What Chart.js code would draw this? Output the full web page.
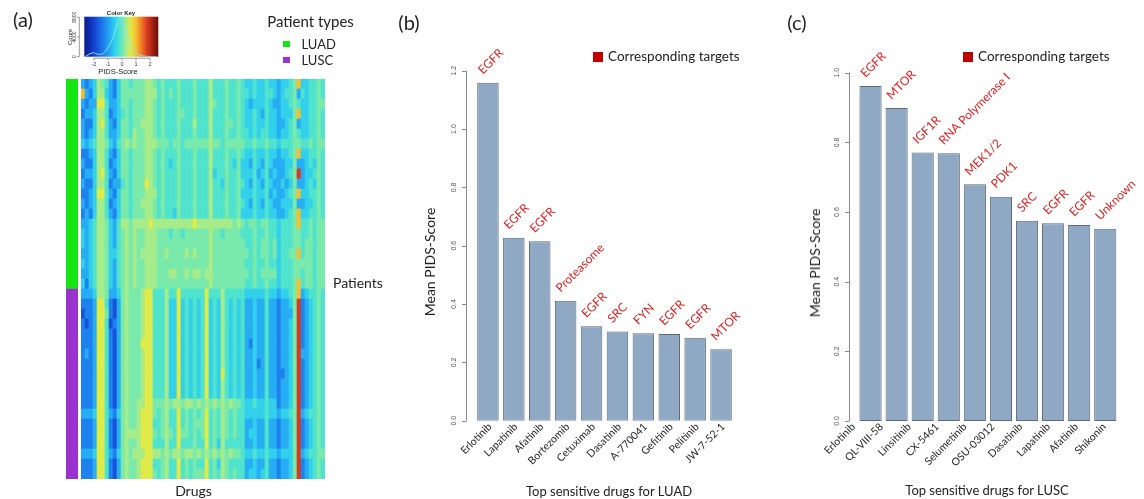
<!DOCTYPE html>
<html>
<head>
<meta charset="utf-8">
<script src="https://cdn.jsdelivr.net/npm/chart.js@4.4.0/dist/chart.umd.min.js"></script>
<style>
html,body{margin:0;padding:0;background:#fff;}
#wrap{position:relative;width:1144px;height:499px;overflow:hidden;font-family:Lato,"Open Sans",sans-serif;color:#222;}
canvas{position:absolute;left:0;top:0;}
.t{position:absolute;white-space:nowrap;line-height:1;transform:translate(-50%,-50%);}
.tl{position:absolute;white-space:nowrap;line-height:1;transform:translate(0,-50%);}
.rot{transform:translate(-50%,-50%) rotate(-90deg);}
.sq{position:absolute;}
</style>
</head>
<body>
<div id="wrap">
  <canvas id="heat" width="1144" height="499"></canvas>
  <canvas id="side" width="1144" height="499"></canvas>
  <canvas id="key" width="1144" height="499"></canvas>
  <canvas id="chartB" width="1144" height="499"></canvas>
  <canvas id="chartC" width="1144" height="499"></canvas>

  <div class="t" style="left:23px;top:19px;font-size:20px">(a)</div>
  <div class="t" style="left:409px;top:22px;font-size:20px">(b)</div>
  <div class="t" style="left:797px;top:22px;font-size:20px">(c)</div>

  <div class="t" style="left:121px;top:12.5px;font-size:6px;font-weight:bold;font-family:'Liberation Sans'">Color Key</div>
  <div class="t" style="left:118px;top:71.5px;font-size:7.5px;font-family:'Liberation Sans'">PIDS-Score</div>
  <div class="t rot" style="left:69.5px;top:37px;font-size:6px;font-family:'Liberation Sans'">Count</div>

  <div class="t" style="left:310.5px;top:20.5px;font-size:15px">Patient types</div>
  <div class="sq" style="left:283px;top:41px;width:7px;height:6px;background:#14e614"></div>
  <div class="tl" style="left:301.5px;top:44px;font-size:13px">LUAD</div>
  <div class="sq" style="left:283px;top:56.5px;width:7px;height:6px;background:#9a32cd"></div>
  <div class="tl" style="left:301.5px;top:60px;font-size:13px">LUSC</div>
  <div class="tl" style="left:333px;top:283px;font-size:14px">Patients</div>
  <div class="t" style="left:193.5px;top:491px;font-size:14px">Drugs</div>

  <div class="t rot" style="left:430px;top:262px;font-size:14px">Mean PIDS-Score</div>
  <div class="t" style="left:609px;top:490.5px;font-size:13px">Top sensitive drugs for LUAD</div>
  <div class="sq" style="left:593px;top:52px;width:10px;height:10px;background:#c00000"></div>
  <div class="tl" style="left:608px;top:57px;font-size:13.5px">Corresponding targets</div>

  <div class="t rot" style="left:815px;top:263px;font-size:14px">Mean PIDS-Score</div>
  <div class="t" style="left:987px;top:490px;font-size:13px">Top sensitive drugs for LUSC</div>
  <div class="sq" style="left:963px;top:52px;width:10px;height:10px;background:#c00000"></div>
  <div class="tl" style="left:978px;top:57px;font-size:13.5px">Corresponding targets</div>
</div>
<script>
/* ---------- DATA ---------- */
// colour key: PIDS-score stops and colours
const keyStops  = [-2.69,-2.0,-1.4,-0.9,-0.55,-0.3,0.0,0.3,0.6,1.0,1.4,1.8,2.59];
const keyColors = ['#0a1a8c','#1440d0','#1c78ec','#24a8f4','#30ccf0','#3edfdc','#6ae8b8','#a6ec8a','#e0ea48','#f4c030','#f07828','#d83820','#6a0c08'];
const keyTicks  = [-2,-1,0,1,2];
const countTicks = [0,4000,8000];
// density trace in the colour key
const histX = [-2.64,-2.05,-1.69,-1.33,-0.98,-0.62,-0.38,-0.19,-0.02,0.21,0.57,0.93,1.29,1.76,2.48];
const histY = [0,800,470,675,2000,4050,6400,7760,7300,5400,2700,1000,340,70,0];

// heatmap: digit = score level, one string per patient block (top to bottom), one digit per drug block
const levelScores = [-1.8,-1.3,-0.85,-0.5,-0.18,0.08,0.3,0.6,1.0,1.8];
const heatRows = [
  "2123654213 5545556654 5444544454 4464445445 4334334332 3345833445 4",
  "8213663213 5555556664 5454544454 4464445445 4434334432 3445243445 4",
  "2122774223 5545556654 5444544454 4465445445 4323334322 3345433445 5",
  "1223664123 4545556654 5444554454 4464445445 4334324332 3335833445 4",
  "2113674213 5545566654 5444544464 4464445545 4334334332 2345233445 4",
  "2123664223 5546556654 5444544454 4464445445 4434344332 3345433445 4",
  "3234665324 5656556665 5545545555 5565545555 5445445443 4445544545 5",
  "1123664213 5545556654 5444544454 4464445445 4334334332 3345833445 4",
  "2113664123 5545556654 5434544454 4464445435 3324324322 2335223435 4",
  "1223674213 5545556654 5444544454 4463445445 3334234232 2345923345 4",
  "2113664122 4545557654 5444544454 4464435445 4324324322 3235223435 4",
  "1123774213 5545556664 5444544454 4464445445 3334334232 2345833445 4",
  "2123664123 5545566654 5444544454 4464445445 4324324322 3335223345 4",
  "1213664213 5545556654 5443544454 4464445445 3334334332 2345833445 4",
  "2234665324 6656666766 6666666676 6666666656 5455455443 4445844545 5",
  "3234665324 5656556665 5545545555 5565545555 4445445443 4445544545 5",
  "3234665324 5656556665 5555555555 5565555555 5445455453 4445545545 5",
  "2234665334 5656566665 5655556565 5565555555 5545455453 4455845545 5",
  "3234665324 5656556665 5555555555 5565555555 5445445443 4445555545 5",
  "2234665324 5656556665 5566556566 5665555555 5545455553 4445545545 5",
  "3134665324 5656556665 5555555555 5565555555 5445445443 4445845545 5",
  "2223665223 5655567744 4644744444 4744464444 4333334332 3345823445 4",
  "1112774102 5655567744 4633734343 4734364343 4223224221 2235912345 4",
  "0112775102 5655567744 4633734343 4734364343 4223224221 2225912345 4",
  "1012774012 5655567744 4633734343 4734364343 4223224221 2235912345 4",
  "1112774102 5655567744 4633734343 4734364343 4223224221 2235912345 4",
  "1112774102 5655577744 4633734343 4734364343 4213224221 2235912345 4",
  "1212774102 5655567744 4633734343 4734364343 4223224221 2235922345 4",
  "1112774102 5655567744 4633734343 4734364343 4223124221 2235912345 4",
  "1112774102 5655567744 4633734343 4734374343 4223224221 1235912345 4",
  "1112774102 5655567744 4633734343 4734364343 4223224221 2235912345 4",
  "1112774102 5655567744 4633734343 4734364343 4223224221 2235912345 4",
  "1112774102 5655667755 5656656656 5656565655 4334334331 2235912345 4",
  "2223774213 5655677754 5644745454 5745465454 4333334332 3345923445 4",
  "1112774102 5655677744 5644745455 5745465454 4223224221 2235912345 4",
  "1112774102 5666677754 5654755454 5745465454 4233224221 2235912345 4",
  "1112774102 5655677744 4644744454 4745364444 4223224221 2235912345 4",
  "2223774213 5656667766 5656656656 5656565655 4334334332 3335923445 5",
  "1112774102 5655677744 5644745454 4745365444 4223224221 2235912345 4",
  "1112774102 5655677754 5644745455 5745465454 4233234221 2235912345 4"
];
const patientTypes  = ['LUAD','LUSC'];
const patientRows   = [21,19];
const patientColors = ['#14e614','#9a32cd'];

// panel (b)
const luadDrugs   = ['Erlotinib','Lapatinib','Afatinib','Bortezomib','Cetuximab','Dasatinib','A-770041','Gefitinib','Pelitinib','JW-7-52-1'];
const luadScores  = [1.159,0.627,0.615,0.411,0.324,0.306,0.300,0.297,0.284,0.245];
const luadTargets = ['EGFR','EGFR','EGFR','Proteasome','EGFR','SRC','FYN','EGFR','EGFR','MTOR'];
const luadTicks   = [0,0.2,0.4,0.6,0.8,1.0,1.2];
// panel (c)
const luscDrugs   = ['Erlotinib','QL-VIII-58','Linsitinib','CX-5461','Selumetinib','OSU-03012','Dasatinib','Lapatinib','Afatinib','Shikonin'];
const luscScores  = [0.962,0.899,0.771,0.769,0.680,0.644,0.575,0.568,0.563,0.552];
const luscTargets = ['EGFR','MTOR','IGF1R','RNA Polymerase I','MEK1/2','PDK1','SRC','EGFR','EGFR','Unknown'];
const luscTicks   = [0,0.2,0.4,0.6,0.8,1.0];

/* ---------- HELPERS ---------- */
const W = 1144, H = 499;
const $ = id => document.getElementById(id);
const hexRgb = h => [1,3,5].map(i=>parseInt(h.substr(i,2),16));

function scoreColor(v){
  if(v<=keyStops[0]) return keyColors[0];
  for(let i=1;i<keyStops.length;i++){
    if(v<=keyStops[i]){
      const t=(v-keyStops[i-1])/(keyStops[i]-keyStops[i-1]);
      const a=hexRgb(keyColors[i-1]), b=hexRgb(keyColors[i]);
      return `rgb(${a.map((c,j)=>Math.round(c+(b[j]-c)*t)).join(',')})`;
    }
  }
  return keyColors[keyColors.length-1];
}

const baseOpts = (pad, scales) => ({
  responsive:false, animation:false, events:[],
  layout:{padding:pad},
  plugins:{legend:{display:false},tooltip:{enabled:false}},
  scales
});

/* ---------- (a) HEATMAP ---------- */
const cells = heatRows.map(r=>r.replace(/\s/g,'').split('').map(Number));
const nRows = cells.length;
const colLabels = cells[0].map((_,i)=>'D'+(i+1));

new Chart($('heat'),{
  type:'bar',
  data:{labels:colLabels,
    datasets:cells.slice().reverse().map(row=>({
      data:row.map(()=>1),
      backgroundColor:row.map(d=>scoreColor(levelScores[d])),
      borderWidth:0, barPercentage:1, categoryPercentage:1
    }))},
  options:baseOpts({left:81,right:W-325,top:79,bottom:H-479},
    {x:{display:false,stacked:true},y:{display:false,stacked:true,min:0,max:nRows}})
});

new Chart($('side'),{
  type:'bar',
  data:{labels:['type'],
    datasets:patientTypes.map((t,i)=>({label:t,data:[patientRows[i]],backgroundColor:patientColors[i],
      borderWidth:0,barPercentage:1,categoryPercentage:1})).reverse()},
  options:baseOpts({left:66,right:W-78,top:79,bottom:H-479},
    {x:{display:false,stacked:true},y:{display:false,stacked:true,min:0,max:nRows}})
});

// colour key with density trace
const keyPlugin = {
  id:'keyBg',
  beforeDatasetsDraw(chart){
    const {ctx,chartArea:a,scales:{x}} = chart;
    const g = ctx.createLinearGradient(a.left,0,a.right,0);
    keyStops.forEach((s,i)=>g.addColorStop((x.getPixelForValue(s)-a.left)/(a.right-a.left),keyColors[i]));
    ctx.save(); ctx.fillStyle=g; ctx.fillRect(a.left,a.top,a.right-a.left,a.bottom-a.top); ctx.restore();
  },
  afterDraw(chart){
    const {ctx,chartArea:a,scales:{x,y}} = chart;
    ctx.save();
    ctx.strokeStyle='#555'; ctx.lineWidth=0.6; ctx.fillStyle='#333';
    ctx.font='5.5px "Liberation Sans"'; ctx.textAlign='center'; ctx.textBaseline='middle';
    ctx.beginPath();
    ctx.moveTo(x.getPixelForValue(keyTicks[0]),a.bottom+1.5); ctx.lineTo(x.getPixelForValue(keyTicks[keyTicks.length-1]),a.bottom+1.5);
    keyTicks.forEach(t=>{const px=x.getPixelForValue(t); ctx.moveTo(px,a.bottom+1.5); ctx.lineTo(px,a.bottom+4);});
    const ax=a.left-5;
    ctx.moveTo(ax,y.getPixelForValue(0)); ctx.lineTo(ax,y.getPixelForValue(8000));
    countTicks.forEach(t=>{const py=y.getPixelForValue(t); ctx.moveTo(ax,py); ctx.lineTo(ax-2.5,py);});
    ctx.stroke();
    keyTicks.forEach(t=>ctx.fillText(String(t),x.getPixelForValue(t),a.bottom+7.5));
    ctx.font='5px "Liberation Sans"';
    countTicks.forEach(t=>{ctx.save(); ctx.translate(ax-5,y.getPixelForValue(t)); ctx.rotate(-Math.PI/2); ctx.fillText(t,0,0); ctx.restore();});
    ctx.restore();
  }
};
new Chart($('key'),{
  type:'line',
  data:{datasets:[{data:histX.map((v,i)=>({x:v,y:histY[i]})),borderColor:'#8fe0ff',borderWidth:1,
    pointRadius:0,cubicInterpolationMode:'monotone',fill:false}]},
  options:baseOpts({left:84.3,right:W-158.3,top:16.7,bottom:H-56.7},
    {x:{type:'linear',display:false,min:-2.69,max:2.59},y:{display:false,min:0,max:8100}}),
  plugins:[keyPlugin]
});

/* ---------- (b) & (c) BAR CHARTS ---------- */
function barPanel(id, drugs, scores, targets, ticks, cfg){
  const deco = {
    id:'deco'+id,
    afterDatasetsDraw(chart){
      const {ctx,scales:{x,y}} = chart;
      ctx.save();
      // y axis, R style, detached from bars
      ctx.strokeStyle='#8a8a8a'; ctx.lineWidth=1;
      ctx.beginPath();
      ctx.moveTo(cfg.axisX,y.getPixelForValue(0)); ctx.lineTo(cfg.axisX,y.getPixelForValue(ticks[ticks.length-1]));
      ticks.forEach(t=>{const py=Math.round(y.getPixelForValue(t))+0.5; ctx.moveTo(cfg.axisX,py); ctx.lineTo(cfg.axisX-4.5,py);});
      ctx.stroke();
      ctx.fillStyle='#555'; ctx.font='7px "Liberation Sans"'; ctx.textAlign='center'; ctx.textBaseline='middle';
      ticks.forEach(t=>{ctx.save(); ctx.translate(cfg.axisX-12.5,y.getPixelForValue(t)); ctx.rotate(-Math.PI/2); ctx.fillText(t.toFixed(1),0,0); ctx.restore();});
      // drug names
      ctx.fillStyle='#262626'; ctx.font='10.5px Lato'; ctx.textAlign='right'; ctx.textBaseline='middle';
      drugs.forEach((d,i)=>{
        const px=x.getPixelForValue(i)+cfg.nameShift+(i-4.5)*cfg.nameSpread;
        ctx.save(); ctx.translate(px,cfg.nameY); ctx.rotate(-Math.PI/4); ctx.fillText(d,0,0); ctx.restore();
      });
      // target names
      ctx.fillStyle='#e01e1e'; ctx.font='12px Lato'; ctx.textAlign='left'; ctx.textBaseline='alphabetic';
      targets.forEach((t,i)=>{
        ctx.save(); ctx.translate(x.getPixelForValue(i)-5,y.getPixelForValue(scores[i])-8); ctx.rotate(-Math.PI/4); ctx.fillText(t,0,0); ctx.restore();
      });
      ctx.restore();
    }
  };
  return new Chart($(id),{
    type:'bar',
    data:{labels:drugs,datasets:[{data:scores,backgroundColor:'#8fa8c4',borderColor:'#5d6a78',borderWidth:1,
      borderSkipped:false,barPercentage:cfg.barPct,categoryPercentage:1}]},
    options:baseOpts(cfg.pad,{x:{display:false},y:{display:false,min:0,max:ticks[ticks.length-1]}}),
    plugins:[deco]
  });
}

barPanel('chartB',luadDrugs,luadScores,luadTargets,luadTicks,{
  pad:{left:475,right:W-734,top:70.7,bottom:H-420.7},axisX:466.5,barPct:0.83,
  nameShift:2,nameSpread:0,nameY:425
});
barPanel('chartC',luscDrugs,luscScores,luscTargets,luscTicks,{
  pad:{left:857.5,right:W-1118.3,top:72.7,bottom:H-421},axisX:849.5,barPct:0.85,
  nameShift:-9,nameSpread:1.8,nameY:425
});
</script>
</body>
</html>
